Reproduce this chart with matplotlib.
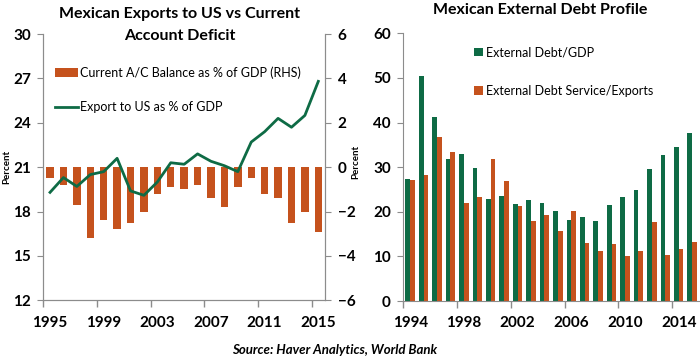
import matplotlib
matplotlib.use("Agg")
import matplotlib.pyplot as plt
import numpy as np

plt.rcParams["font.family"] = ["Lato", "DejaVu Sans"]

ORANGE = "#C5521D"
GREEN = "#0E6B45"
AXIS_GRAY = "#8C8C8C"

# left chart: 1995-2015
years_left = list(range(1995, 2016))
ca_balance = [-0.5, -0.8, -1.7, -3.2, -2.4, -2.8, -2.5, -2.0, -1.2, -0.9,
              -1.0, -0.8, -1.4, -1.8, -0.9, -0.5, -1.2, -1.4, -2.5, -2.0, -2.9]
exports_us = [19.3, 20.3, 19.7, 20.5, 20.7, 21.6, 19.4, 19.1, 20.0, 21.3,
              21.2, 21.9, 21.4, 21.1, 20.7, 22.7, 23.4, 24.3, 23.7, 24.5, 26.8]

# right chart: 1994-2015
years_right = list(range(1994, 2016))
debt_gdp = [27.3, 50.4, 41.2, 31.9, 32.9, 29.8, 22.9, 23.5, 21.7, 22.7, 21.9,
            20.2, 18.2, 18.8, 17.9, 21.5, 23.3, 24.9, 29.6, 32.8, 34.5, 37.6]
debt_service = [27.1, 28.3, 36.7, 33.4, 22.0, 23.3, 31.9, 27.0, 21.2, 17.9, 19.2,
                15.6, 20.2, 12.9, 11.2, 12.7, 10.1, 11.3, 17.7, 10.2, 11.6, 13.2]


def style_xaxis(ax, years):
    # labels sit on every 4th category, tick marks between categories
    n = len(years)
    ax.set_xticks(np.arange(0, n, 4))
    ax.set_xticklabels([str(years[i]) for i in range(0, n, 4)],
                       fontsize=11, fontweight="bold")
    ax.set_xticks(np.arange(-0.5, n - 1, 4), minor=True)
    ax.tick_params(axis="x", which="major", length=0, pad=11)
    ax.tick_params(axis="x", which="minor", length=5, color=AXIS_GRAY, width=1)
    ax.set_xlim(-0.5, n - 0.5)


fig = plt.figure(figsize=(7, 3.58), dpi=100)

# ---- left chart ----
ax1 = fig.add_axes([0.0619, 0.1609, 0.4024, 0.7441])
ax2 = ax1.twinx()
x = np.arange(len(years_left))
ax2.bar(x, ca_balance, width=0.55, color=ORANGE,
        label="Current A/C Balance as % of GDP (RHS)")
ax1.plot(x, exports_us, color=GREEN, lw=2.0,
         label="Export to US as % of GDP")
ax1.set_zorder(ax2.get_zorder() + 1)
ax1.patch.set_visible(False)

ax1.set_ylim(12, 30)
ax1.set_yticks(np.arange(12, 31, 3))
ax2.set_ylim(-6, 6)
ax2.set_yticks(np.arange(-6, 7, 2))
style_xaxis(ax1, years_left)
for a in (ax1, ax2):
    for s in a.spines.values():
        s.set_color(AXIS_GRAY)
    a.spines["top"].set_visible(False)
    a.tick_params(axis="y", length=4, color=AXIS_GRAY, pad=5, labelsize=11)
    for lbl in a.get_yticklabels():
        lbl.set_fontweight("bold")
ax1.set_ylabel("Percent", fontsize=7, fontweight="bold", labelpad=1)

h1, l1 = ax2.get_legend_handles_labels()
h2, l2 = ax1.get_legend_handles_labels()
ax1.legend(h1 + h2, l1 + l2, loc="upper left", bbox_to_anchor=(0.04, 0.88),
           frameon=False, fontsize=9, handlelength=1.85, handleheight=0.7,
           handletextpad=0.15, labelspacing=1.8, borderpad=0, borderaxespad=0)

fig.text(0.257, 0.962, "Mexican Exports to US vs Current", ha="center",
         va="center", fontsize=11.5, fontweight="bold")
fig.text(0.257, 0.9, "Account Deficit", ha="center",
         va="center", fontsize=11.5, fontweight="bold")

# ---- right chart ----
ax3 = fig.add_axes([0.5764, 0.1592, 0.4219, 0.7478])
xr = np.arange(len(years_right))
bw = 0.35
ax3.bar(xr - bw / 2, debt_gdp, width=bw, color=GREEN, label="External Debt/GDP")
ax3.bar(xr + bw / 2, debt_service, width=bw, color=ORANGE,
        label="External Debt Service/Exports")
ax3.set_ylim(0, 60)
ax3.set_yticks(np.arange(0, 61, 10))
style_xaxis(ax3, years_right)
for s in ax3.spines.values():
    s.set_color(AXIS_GRAY)
ax3.spines["top"].set_visible(False)
ax3.spines["right"].set_visible(False)
ax3.tick_params(axis="y", length=4, color=AXIS_GRAY, pad=5, labelsize=11)
for lbl in ax3.get_yticklabels():
    lbl.set_fontweight("bold")
ax3.set_ylabel("Percent", fontsize=7, fontweight="bold")
ax3.yaxis.set_label_coords(-0.147, 0.52)
ax3.legend(loc="upper left", bbox_to_anchor=(0.239, 0.951), frameon=False,
           fontsize=9, handlelength=0.72, handleheight=0.72, handletextpad=0.25,
           labelspacing=2.1, borderpad=0, borderaxespad=0)
fig.text(0.771, 0.973, "Mexican External Debt Profile", ha="center",
         va="center", fontsize=11.5, fontweight="bold")

fig.text(0.478, 0.022, "Source: Haver Analytics, World Bank", ha="center",
         va="center", fontsize=9.5, fontweight="bold", fontstyle="italic")

fig.savefig("out.png", dpi=100)
